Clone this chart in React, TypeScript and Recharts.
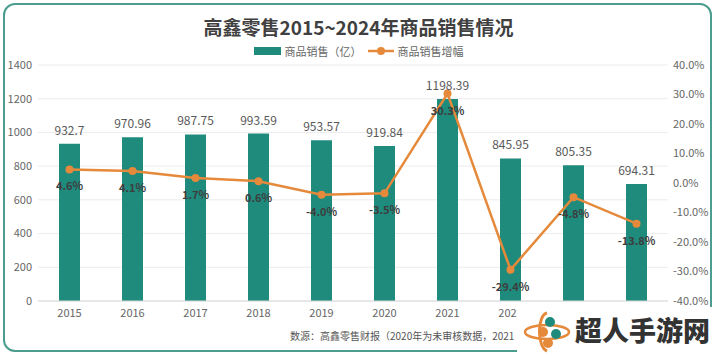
import React from "react";
import {
  ComposedChart, Bar, Line, XAxis, YAxis, CartesianGrid, LabelList,
} from "recharts";

const years = ["2015", "2016", "2017", "2018", "2019", "2020", "2021", "2022", "2023", "2024"];
const sales = [932.7, 970.96, 987.75, 993.59, 953.57, 919.84, 1198.39, 845.95, 805.35, 694.31];
const growth = [4.6, 4.1, 1.7, 0.6, -4.0, -3.5, 30.3, -29.4, -4.8, -13.8];
const leftTicks = [0, 200, 400, 600, 800, 1000, 1200, 1400];
const rightTicks = [-40, -30, -20, -10, 0, 10, 20, 30, 40];

const data = years.map((y, i) => ({ year: y, sales: sales[i], growth: growth[i] }));

const TEAL = "#1f8b7d";
const ORANGE = "#e5893b";
const FONT = '"Noto Sans CJK SC", "Noto Sans", sans-serif';

// eslint-disable-next-line @typescript-eslint/no-explicit-any
function GrowthLabel({ x, y, value }: any) {
  return (
    <text x={x} y={y + 21} textAnchor="middle" fontSize={11} fontWeight="bold" fill="#3d3d3d" fontFamily={FONT}>
      {value.toFixed(1)}%
    </text>
  );
}

function Logo() {
  return (
    <div style={{ position: "absolute", left: 517, top: 307, width: 200, height: 49, background: "#fff" }}>
      <svg width={52} height={49} style={{ position: "absolute", left: 4, top: 0 }}>
        <path d="M26 6 C16 8 16 40 26 44" stroke={ORANGE} strokeWidth={3} fill="none" />
        <ellipse cx={26} cy={25} rx={22} ry={7} stroke={ORANGE} strokeWidth={2.5} fill="none" />
        <circle cx={29} cy={15} r={5} fill={TEAL} />
        <circle cx={22} cy={25} r={5} fill={ORANGE} />
        <circle cx={35} cy={27} r={5} fill={TEAL} />
        <circle cx={27} cy={36} r={5} fill={ORANGE} />
      </svg>
      <div style={{ position: "absolute", left: 58, top: 5, fontFamily: FONT, fontWeight: 900, fontSize: 27, color: "#333", lineHeight: "36px", whiteSpace: "nowrap" }}>
        超人手游网
      </div>
    </div>
  );
}

export default function App() {
  return (
    <div style={{ position: "absolute", left: 0, top: 0, width: 717, height: 356, background: "#fff", fontFamily: FONT, overflow: "hidden" }}>
      <div style={{ position: "absolute", left: 3, top: 3, width: 705, height: 345, border: "2px solid #4a9d8f", borderRadius: 12 }} />
      <div style={{ position: "absolute", left: 0, top: 14, width: 717, textAlign: "center", fontSize: 19, fontWeight: "bold", color: "#404040", lineHeight: "26px" }}>
        高鑫零售2015~2024年商品销售情况
      </div>
      <div style={{ position: "absolute", left: 0, top: 43, width: 717, display: "flex", justifyContent: "center", alignItems: "center", fontSize: 11, color: "#666", lineHeight: "16px" }}>
        <span style={{ display: "inline-block", width: 27, height: 8, background: TEAL, marginRight: 4 }} />
        <span style={{ marginRight: 6 }}>商品销售（亿）</span>
        <svg width={26} height={10} style={{ marginRight: 4 }}>
          <line x1={0} y1={5} x2={26} y2={5} stroke={ORANGE} strokeWidth={2.5} />
          <circle cx={13} cy={5} r={4} fill={ORANGE} />
        </svg>
        <span>商品销售增幅</span>
      </div>
      <ComposedChart width={717} height={356} data={data} margin={{ top: 65, right: 4, left: 0, bottom: 25 }}>
        <CartesianGrid yAxisId="left" vertical={false} stroke="#ececec" />
        <XAxis dataKey="year" axisLine={{ stroke: "#d9d9d9" }} tickLine={false} height={30}
          tick={{ fontSize: 11, fill: "#666", fontFamily: FONT }} />
        <YAxis yAxisId="left" domain={[0, 1400]} ticks={leftTicks} width={38} axisLine={false} tickLine={false}
          tickSize={4} tick={{ fontSize: 11, fill: "#666", fontFamily: FONT }} />
        <YAxis yAxisId="right" orientation="right" domain={[-40, 40]} ticks={rightTicks} width={45}
          axisLine={false} tickLine={false} tickSize={3} tickFormatter={(v: number) => v.toFixed(1) + "%"}
          tick={{ fontSize: 11, fill: "#666", fontFamily: FONT }} />
        <Bar yAxisId="left" dataKey="sales" fill={TEAL} barSize={21} isAnimationActive={false}>
          <LabelList dataKey="sales" position="top" offset={9} fontSize={12} fill="#595959" fontFamily={FONT} />
        </Bar>
        <Line yAxisId="right" dataKey="growth" stroke={ORANGE} strokeWidth={2.5} type="linear"
          dot={{ r: 4, fill: ORANGE, stroke: ORANGE, strokeWidth: 0 }} isAnimationActive={false}>
          <LabelList dataKey="growth" content={<GrowthLabel />} />
        </Line>
      </ComposedChart>
      <div style={{ position: "absolute", left: 290, top: 329, fontSize: 10, color: "#555", whiteSpace: "nowrap", lineHeight: "14px" }}>
        数源：高鑫零售财报（2020年为未审核数据，2021
      </div>
      <Logo />
    </div>
  );
}
